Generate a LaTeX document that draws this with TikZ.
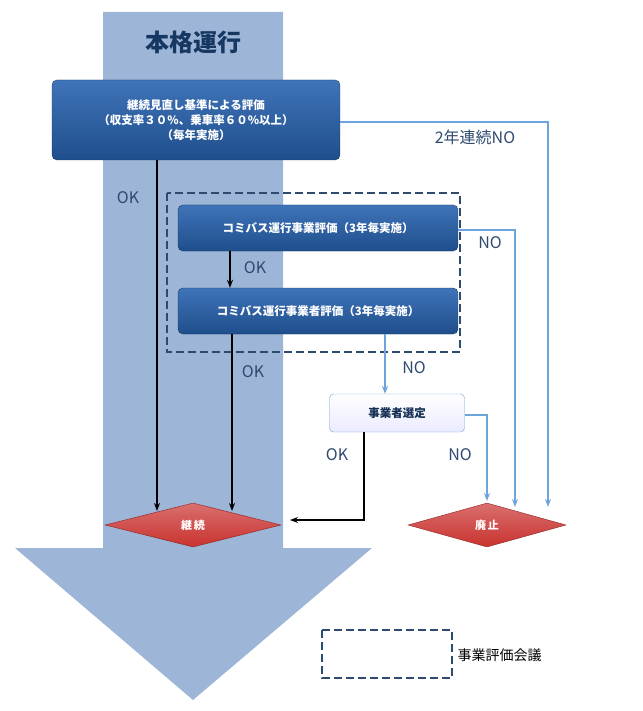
\documentclass[tikz,border=0pt]{standalone}
\usepackage{fontspec}
\setmainfont{Noto Sans CJK JP}
\usetikzlibrary{shapes.geometric,arrows.meta}
\definecolor{band}{HTML}{9DB5D6}
\definecolor{navy}{HTML}{1F4E8C}
\definecolor{navyl}{HTML}{3F74B8}
\definecolor{lb}{HTML}{6FA3DE}
\definecolor{dash}{HTML}{2E4A6E}
\definecolor{rd}{HTML}{C9322F}
\begin{document}
\begin{tikzpicture}[x=1pt,y=-1pt,
 bx/.style={draw=navy!70!black,rounded corners=5pt,top color=navyl,bottom color=navy,text=white,font=\fontsize{11.5}{15}\selectfont\bfseries,align=center},
 dm/.style={diamond,aspect=4,draw=rd!70!black,top color=rd!70,bottom color=rd,text=white,font=\fontsize{11}{13}\selectfont\bfseries,inner sep=1pt},
 ok/.style={black,line width=1.5pt,-{Stealth[length=8pt]}},
 no/.style={lb,line width=2pt,-{Stealth[length=8pt]}},
 lab/.style={font=\fontsize{16}{18}\selectfont,text=dash},
 dsh/.style={draw=dash,line width=1.8pt,dash pattern=on 8pt off 4pt}]
\useasboundingbox (0,0) rectangle (642,711);
\fill[band] (103,12) -- (283,12) -- (283,548) -- (372,548) -- (193,700) -- (15,548) -- (103,548) -- cycle;
\node[font=\fontsize{24}{26}\selectfont\bfseries,text=navy!70!black] (title) at (193,42) {本格運行};
\node[bx,minimum width=288pt,minimum height=80pt] (b1) at (196,120) {継続見直し基準による評価\\（収支率３０\%、乗車率６０\%以上）\\（毎年実施）};
\draw[dsh] (167,193) rectangle (460,352);
\node[bx,minimum width=280pt,minimum height=46pt] (b2) at (318,228) {コミバス運行事業評価（3年毎実施）};
\node[bx,minimum width=280pt,minimum height=46pt] (b3) at (318,311) {コミバス運行事業者評価（3年毎実施）};
\node[draw=lb,rounded corners=4pt,top color=white,bottom color=blue!8,minimum width=135pt,minimum height=38pt,font=\fontsize{11.5}{13}\selectfont\bfseries,text=navy!60!black] (b4) at (397,413) {事業者選定};
\node[dm,minimum width=176pt,minimum height=44pt] (d1) at (193,525) {継\,続};
\node[dm,minimum width=158pt,minimum height=44pt] (d2) at (487,525) {廃\,止};
\coordinate (c1) at (157,160);
\draw[ok] (c1) -- (157,511);
\node[lab] (l1) at (128,198) {OK};
\draw[ok] (230,251) -- (b3.north -| 230,0);
\node[lab] (l2) at (255,268) {OK};
\draw[ok] (232,334) -- (232,511);
\node[lab] (l3) at (253,372) {OK};
\draw[ok] (b4.south -| 364,0) -- (364,520) -- (290,520);
\node[lab] (l4) at (337,455) {OK};
\draw[no] (b1.east |- 0,122) -- (548,122) -- (548,507);
\node[lab] (l5) at (475,137) {2年連続NO};
\draw[no] (b2.east |- 0,230) -- (515,230) -- (515,507);
\node[lab] (l6) at (490,243) {NO};
\draw[no] (385,334) -- (b4.north -| 385,0);
\node[lab] (l7) at (414,368) {NO};
\draw[no] (b4.east |- 0,415) -- (487,415) -- (487,501);
\node[lab] (l8) at (460,455) {NO};
\draw[dsh] (322,630) rectangle (452,678);
\node[font=\fontsize{14}{16}\selectfont,anchor=west] (lg) at (454,655) {事業評価会議};
\end{tikzpicture}
\end{document}
